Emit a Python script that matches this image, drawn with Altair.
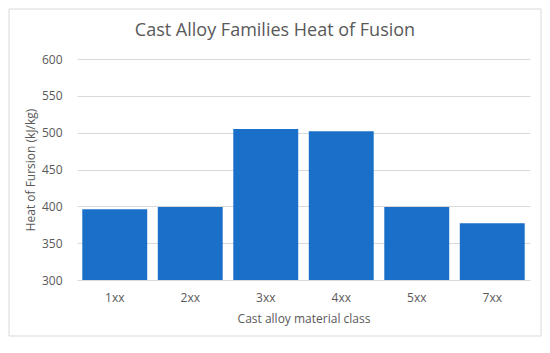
import altair as alt
import pandas as pd

categories = ["1xx", "2xx", "3xx", "4xx", "5xx", "7xx"]
values = [396, 399, 505, 502, 399, 377]
y_ticks = [300, 350, 400, 450, 500, 550, 600]

df = pd.DataFrame({"cls": categories, "hof": values})

W, H = 453, 221
PL, PT = 69, 51

bars = alt.Chart(df).mark_bar(color="#1a70c8").encode(
    x=alt.X("cls:N", sort=categories,
            scale=alt.Scale(paddingInner=0.14, paddingOuter=0.07),
            axis=alt.Axis(title="Cast alloy material class", labelAngle=0,
                          domain=False, ticks=False, labelPadding=12,
                          titlePadding=10)),
    y=alt.Y("hof:Q", scale=alt.Scale(domain=[300, 600], nice=False, zero=False, clamp=True),
            axis=alt.Axis(title="Heat of Fursion (kJ/kg)", values=y_ticks,
                          domain=False, ticks=False, labelPadding=15,
                          titlePadding=4, grid=True)),
)

title = alt.Chart(pd.DataFrame({"t": ["Cast Alloy Families Heat of Fusion"]})).mark_text(
    fontSize=18, color="#595959", font="Open Sans", baseline="middle", align="center"
).encode(x=alt.value(275 - 8 - PL), y=alt.value(31 - 8 - PT), text="t:N")

border = alt.Chart(pd.DataFrame({"a": [0]})).mark_rect(
    fill=None, stroke="#d9d9d9", strokeWidth=1
).encode(x=alt.value(-PL + 1), x2=alt.value(W + 12 - 1),
         y=alt.value(-PT + 1), y2=alt.value(H + 57 - 1))

chart = alt.layer(border, bars, title).properties(
    width=W, height=H,
    autosize=alt.AutoSizeParams(type="none"),
    padding={"left": PL, "top": PT, "right": 12, "bottom": 57},
).configure(background="white").configure_view(stroke=None).configure_axis(
    labelFont="Open Sans", titleFont="Open Sans",
    labelFontSize=12, titleFontSize=12,
    labelColor="#595959", titleColor="#595959",
    titleFontWeight="normal", gridColor="#d9d9d9",
)

chart.save("out.html", embed_options={"renderer": "svg", "actions": False})
